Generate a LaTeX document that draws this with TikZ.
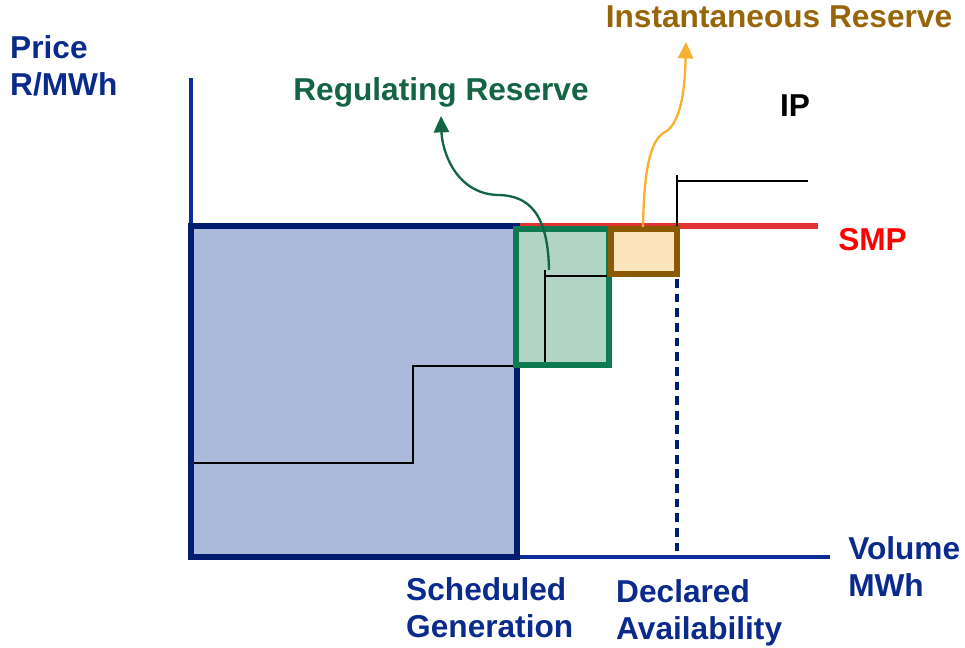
\documentclass[tikz,border=0pt]{standalone}
\usepackage{fontspec}
\setmainfont{Liberation Sans}
\usetikzlibrary{arrows.meta,positioning}
\definecolor{axisblue}{HTML}{0C2C9C}
\definecolor{navy}{HTML}{001C6E}
\definecolor{textblue}{HTML}{0A2A8C}
\definecolor{schedfill}{HTML}{ABB9DB}
\definecolor{reggreen}{HTML}{0E7A50}
\definecolor{regfill}{HTML}{B2D4C6}
\definecolor{regtext}{HTML}{146446}
\definecolor{instbrown}{HTML}{8B5A00}
\definecolor{instfill}{HTML}{FCE4BC}
\definecolor{insttext}{HTML}{98660A}
\definecolor{instarrow}{HTML}{F8B030}
\definecolor{smpred}{HTML}{E03434}
\tikzset{
  lbl/.style={inner sep=0pt, font=\fontsize{27}{31.5}\selectfont\bfseries, align=left},
  stepline/.style={black, line width=1.5pt},
  callout/.style={line width=2pt, -{Triangle[length=14pt,width=13pt]}}
}
\begin{document}
\begin{tikzpicture}[x=0.03cm, y=-0.03cm]
    \useasboundingbox (0,0) rectangle (965,647);

    % scheduled generation block
    \fill[schedfill] (191,226) rectangle (517,557);
    \draw[stepline] (193,463) -- (413,463) -- (413,366) -- (517,366);

    % axes
    \draw[axisblue, line width=3.2pt] (191,78) -- (191,557) -- (830,557);

    % system marginal price
    \draw[smpred, line width=5pt] (517,226) -- (818,226);

    \draw[navy, line width=5.5pt] (191,226) rectangle (517,557);

    % regulating reserve block
    \draw[reggreen, fill=regfill, line width=5pt] (516,229) rectangle (609,365);
    \draw[stepline] (545,362) -- (545,270);
    \draw[stepline] (545,276) -- (607,276);

    % instantaneous reserve block
    \draw[instbrown, fill=instfill, line width=5pt] (611,229) rectangle (677,274);

    % IP offer step
    \draw[stepline] (677,175) -- (677,226);
    \draw[stepline] (677,181) -- (808,181);

    % declared availability
    \draw[navy, line width=3.2pt, dash pattern=on 7.5pt off 5pt] (677,279) -- (677,557);

    % labels
    \node[lbl, textblue, anchor=north west] (price) at (10,35) {Price\\R/MWh};
    \node[lbl, regtext, anchor=base] (reg) at (441,100) {Regulating Reserve};
    \node[lbl, insttext, anchor=base] (inst) at (779,28) {Instantaneous Reserve};
    \node[lbl, black, anchor=base] (ip) at (795,116) {IP};
    \node[lbl, red, anchor=base west] (smp) at (838,250) {SMP};
    \node[lbl, textblue, anchor=north west] (vol) at (848,536) {Volume\\MWh};
    \node[lbl, textblue, anchor=north west] (sched) at (406,577) {Scheduled\\Generation};
    \node[lbl, textblue, anchor=north west] (decl) at (616,579) {Declared\\Availability};

    \coordinate (regstart) at (549,270);
    \coordinate (regtip) at (441,116);
    \coordinate (inststart) at (643,227);
    \coordinate (insttip) at (686,42);
    \draw[callout, regtext] (regstart) .. controls (548,215) and (530,195) .. (497,195)
        .. controls (455,193) and (442,150) .. (regtip);
    \draw[callout, instarrow] (inststart) .. controls (644,170) and (650,140) .. (665,132)
        .. controls (683,122) and (685,80) .. (insttip);
\end{tikzpicture}
\end{document}
